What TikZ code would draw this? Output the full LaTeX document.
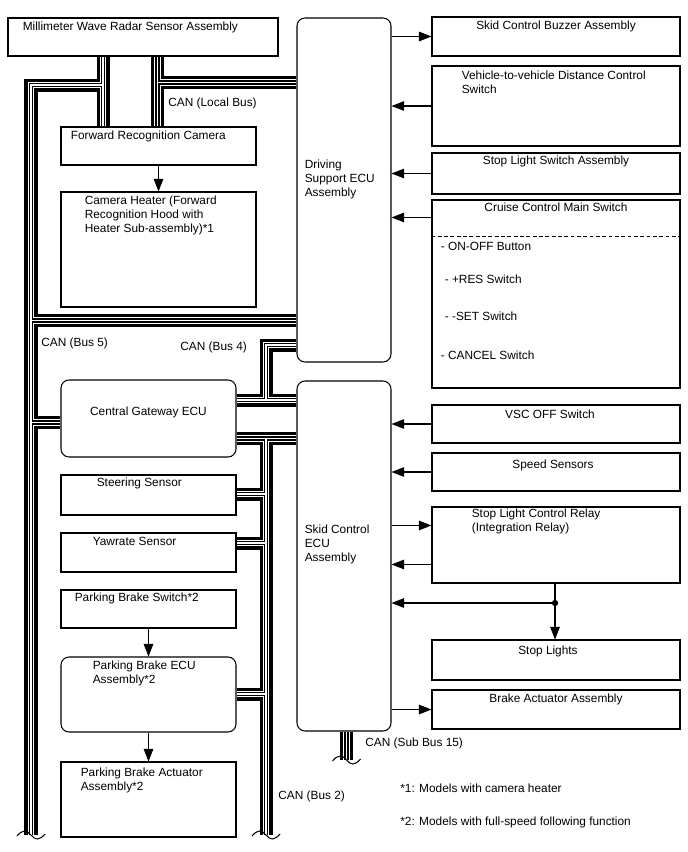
\documentclass[tikz,border=0pt]{standalone}
\usepackage{fontspec}
\setmainfont{Liberation Sans}
\usetikzlibrary{positioning, arrows.meta, calc, fit, backgrounds}

% ============================================================
% CAN bus network, drawn once per pass (#1 = pass style)
% ============================================================
\newcommand{\canlines}[1]{
    % --- Bus 5: radar -> camera, trunk on the far left ---
    \draw[#1] (radar.south -| b5tee) -- (fwdcam.north -| b5tee);
    \draw[#1] (b5tee) -- (b5turn) -- (b5end);
    \draw[#1] (b5ds) -- (b5ds -| dsecu.west);
    \draw[#1] (b5gw) -- (b5gw -| gateway.west);
    % --- Local bus: radar -> camera -> driving support ECU ---
    \draw[#1] (radar.south -| lbtee) -- (fwdcam.north -| lbtee);
    \draw[#1] (lbtee) -- (lbtee -| dsecu.west);
    % --- Bus 4: gateway -> skid control / driving support ---
    \draw[#1] (b4tee -| gateway.east) -- (b4tee -| skidecu.west);
    \draw[#1] (b4tee) -- (b4up) -- (b4up -| dsecu.west);
    % --- Bus 2: gateway -> skid control, sensors below ---
    \draw[#1] (b2tee -| gateway.east) -- (b2tee -| skidecu.west);
    \draw[#1] (b2tee) -- (b2end);
    \draw[#1] (b2st) -- (b2st -| steer.east);
    \draw[#1] (b2yw) -- (b2yw -| yaw.east);
    \draw[#1] (b2pb) -- (b2pb -| pbecu.east);
    % --- Sub bus 15 ---
    \draw[#1] (skidecu.south -| sb15end) -- (sb15end);
}

% wavy break at the open end of a bus
\newcommand{\canbreak}[1]{
    \draw[brk] ($(#1)+(-14,1)$) .. controls ($(#1)+(-8,-6)$) and ($(#1)+(-4,-5)$) .. (#1)
        .. controls ($(#1)+(4,5)$) and ($(#1)+(8,6)$) .. ($(#1)+(14,-1)$);
}

\begin{document}
\begin{tikzpicture}[
    x=0.02cm, y=-0.02cm,
    >={Triangle[length=2.5mm, width=1.9mm]},
    every node/.style={font=\fontsize{6.75}{7.9}\selectfont},
    % Plain component box
    blk/.style={draw, line width=0.6pt, fill=white, inner sep=0pt},
    % ECU box (rounded)
    ecu/.style={blk, rounded corners=0.16cm},
    % Text inside boxes, top-left aligned
    txt/.style={inner sep=0pt, align=left, anchor=north west},
    % Centred box titles
    ttl/.style={inner sep=0pt, align=center, anchor=north},
    % Signal arrow
    arr/.style={->, line width=0.6pt},
    % Dashed separator
    dsh/.style={line width=0.6pt, dash pattern=on 2.2pt off 1.4pt},
    % CAN bus passes (outer edges, then inner pair)
    canA/.style={line width=7.4pt, line join=miter},
    canB/.style={line width=3.6pt, white, line join=miter},
    canC/.style={line width=2.3pt, line join=miter},
    canD/.style={line width=1.13pt, white, line join=miter},
    brk/.style={line width=0.6pt},
]

\useasboundingbox (0,0) rectangle (688,852);

% ============================================================
% Left column
% ============================================================
\node[blk, fit={(8,18) (278,56)}] (radar) {};
\node[blk, fit={(61,127) (256,165)}] (fwdcam) {};
\node[blk, fit={(61,192) (256,307)}] (heater) {};
\node[ecu, fit={(61,380) (236,457)}] (gateway) {};
\node[blk, fit={(61,475) (236,515)}] (steer) {};
\node[blk, fit={(61,533) (236,572)}] (yaw) {};
\node[blk, fit={(61,590) (236,628)}] (pbsw) {};
\node[ecu, fit={(61,657) (236,732)}] (pbecu) {};
\node[blk, fit={(61,762) (236,837)}] (pbact) {};

% ============================================================
% Middle column (ECUs)
% ============================================================
\node[ecu, fit={(297,18) (391,362)}] (dsecu) {};
\node[ecu, fit={(297,381) (391,731)}] (skidecu) {};

% ============================================================
% Right column
% ============================================================
\node[blk, fit={(432,17) (680,56)}] (buzzer) {};
\node[blk, fit={(432,66) (680,146)}] (vvdist) {};
\node[blk, fit={(432,153) (680,194)}] (stopsw) {};
\node[blk, fit={(432,200) (680,388)}] (cruise) {};
\node[blk, fit={(432,405) (680,443)}] (vscoff) {};
\node[blk, fit={(432,453) (680,491)}] (speed) {};
\node[blk, fit={(432,507) (680,583)}] (relay) {};
\node[blk, fit={(432,640) (680,680)}] (stoplt) {};
\node[blk, fit={(432,690) (680,729)}] (brakeact) {};

% --- Box texts ---
\node[txt] (t-radar) at ($(radar.north west)+(15,4)$) {Millimeter Wave Radar Sensor Assembly};
\node[txt] (t-fwdcam) at ($(fwdcam.north west)+(10,4)$) {Forward Recognition Camera};
\node[txt] (t-heater) at ($(heater.north west)+(24,4)$) {Camera Heater (Forward\\Recognition Hood with\\Heater Sub-assembly)*1};
\node[inner sep=0pt] (t-gateway) at ($(gateway.center)+(0,-6.5)$) {Central Gateway ECU};
\node[txt] (t-steer) at ($(steer.north west)+(36,3)$) {Steering Sensor};
\node[txt] (t-yaw) at ($(yaw.north west)+(32,4)$) {Yawrate Sensor};
\node[txt] (t-pbsw) at ($(pbsw.north west)+(14,3)$) {Parking Brake Switch*2};
\node[txt] (t-pbecu) at ($(pbecu.north west)+(32,4)$) {Parking Brake ECU\\Assembly*2};
\node[txt] (t-pbact) at ($(pbact.north west)+(20,6)$) {Parking Brake Actuator\\Assembly*2};
\node[txt] (t-dsecu) at ($(dsecu.north west)+(8,142)$) {Driving\\Support ECU\\Assembly};
\node[txt] (t-skidecu) at ($(skidecu.north west)+(8,144)$) {Skid Control\\ECU\\Assembly};

\node[ttl] (t-buzzer) at ($(buzzer.north)+(0,4)$) {Skid Control Buzzer Assembly};
\node[txt] (t-vvdist) at ($(vvdist.north west)+(30,5)$) {Vehicle-to-vehicle Distance Control\\Switch};
\node[ttl] (t-stopsw) at ($(stopsw.north)+(0,3)$) {Stop Light Switch Assembly};
\node[ttl] (t-cruise) at ($(cruise.north)+(0,3)$) {Cruise Control Main Switch};
\node[txt] (t-onoff) at ($(cruise.north west)+(9,42)$) {- ON-OFF Button};
\node[txt] (t-res) at ($(cruise.north west)+(13,75)$) {- +RES Switch};
\node[txt] (t-set) at ($(cruise.north west)+(13,112)$) {- -SET Switch};
\node[txt] (t-cancel) at ($(cruise.north west)+(9,151)$) {- CANCEL Switch};
\node[ttl] (t-vscoff) at ($(vscoff.north)+(-6,5)$) {VSC OFF Switch};
\node[ttl] (t-speed) at ($(speed.north)+(-3,7)$) {Speed Sensors};
\node[txt] (t-relay) at ($(relay.north west)+(40,2)$) {Stop Light Control Relay\\(Integration Relay)};
\node[ttl] (t-stoplt) at ($(stoplt.north)+(-8,6)$) {Stop Lights};
\node[ttl] (t-brakeact) at ($(brakeact.north)+(0,4)$) {Brake Actuator Assembly};

% dashed line under the cruise switch title
\draw[dsh] ($(cruise.north west)+(0,37)$) -- ($(cruise.north east)+(0,37)$);

% --- Bus labels and notes ---
\node[txt] (l-local) at (168,98) {CAN (Local Bus)};
\node[txt] (l-bus5) at (41,338) {CAN (Bus 5)};
\node[txt] (l-bus4) at (180,342) {CAN (Bus 4)};
\node[txt] (l-sub15) at (365,738) {CAN (Sub Bus 15)};
\node[txt] (l-bus2) at (278,791) {CAN (Bus 2)};
\node[txt] (n-one) at (400,784) {*1: Models with camera heater};
\node[txt] (n-two) at (400,817) {*2: Models with full-speed following function};

% ============================================================
% Signal arrows
% ============================================================
\draw[arr] (dsecu.east |- buzzer.west) -- (buzzer.west);
\draw[arr] (vvdist.west) -- (vvdist.west -| dsecu.east);
\draw[arr] (stopsw.west) -- (stopsw.west -| dsecu.east);
\coordinate (cruisein) at ($(cruise.north west)+(0,18)$);
\draw[arr] (cruisein) -- (cruisein -| dsecu.east);
\draw[arr] (vscoff.west) -- (vscoff.west -| skidecu.east);
\draw[arr] (speed.west) -- (speed.west -| skidecu.east);
\coordinate (relayin) at ($(relay.north west)+(0,19)$);
\coordinate (relayout) at ($(relay.north west)+(0,58)$);
\draw[arr] (relayin -| skidecu.east) -- (relayin);
\draw[arr] (relayout) -- (relayout -| skidecu.east);
\coordinate (lampdot) at (555,603);
\draw[line width=0.6pt] (relay.south -| lampdot) -- (lampdot);
\fill (lampdot) circle (1.8pt);
\draw[arr] (lampdot) -- (lampdot -| skidecu.east);
\draw[arr] (lampdot) -- (lampdot |- stoplt.north);
\draw[arr] (skidecu.east |- brakeact.west) -- (brakeact.west);
\draw[arr] (fwdcam.south) -- (heater.north);
\draw[arr] (pbsw.south) -- (pbecu.north);
\draw[arr] (pbecu.south) -- (pbact.north);

% ============================================================
% CAN buses (behind the boxes)
% ============================================================
\coordinate (b5tee) at (103,85);
\coordinate (b5turn) at (31,85);
\coordinate (b5end) at (31,835);
\coordinate (b5ds) at (31,320.5);
\coordinate (b5gw) at (31,422.5);
\coordinate (lbtee) at (157.5,82.5);
\coordinate (b4tee) at (266,400);
\coordinate (b4up) at (266,345);
\coordinate (b2tee) at (266,438.5);
\coordinate (b2end) at (266,835);
\coordinate (b2st) at (266,494);
\coordinate (b2yw) at (266,543);
\coordinate (b2pb) at (266,694);
\coordinate (sb15end) at (346.5,760);

\begin{pgfonlayer}{background}
    \fill[white] (0,0) rectangle (688,852);
    \canlines{canA}
    \canlines{canB}
    \canlines{canC}
    \canlines{canD}
\end{pgfonlayer}

\canbreak{b5end}
\canbreak{b2end}
\canbreak{sb15end}

\end{tikzpicture}
\end{document}
